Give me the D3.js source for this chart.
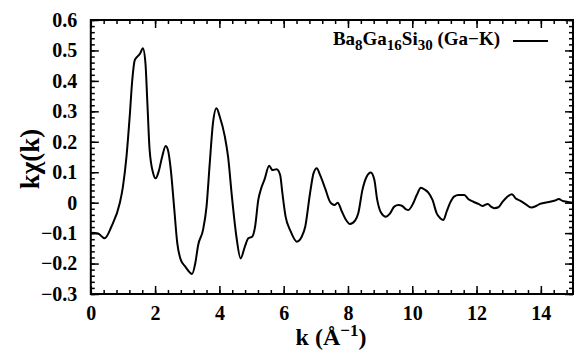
<!DOCTYPE html>
<html>
<head>
<meta charset="utf-8">
<script src="https://cdn.jsdelivr.net/npm/d3@7"></script>
<style>
  body { margin: 0; background: #fff; }
  svg { display: block; font-family: "Liberation Serif", "Times New Roman", serif; font-weight: bold; }
</style>
</head>
<body>
<div id="chart"></div>
<script>
// k values (1/Angstrom) and k*chi(k)
const kVals = [0, 0.22, 0.43, 0.64, 0.90, 1.00, 1.11, 1.21, 1.29, 1.37, 1.47, 1.54, 1.62, 1.70, 1.76, 1.83, 1.94, 2.02, 2.11, 2.22, 2.33, 2.40, 2.49, 2.59, 2.69, 2.80, 2.94, 3.15, 3.25, 3.34, 3.49, 3.60, 3.70, 3.80, 3.91, 4.01, 4.17, 4.27, 4.39, 4.53, 4.66, 4.79, 4.90, 5.02, 5.11, 5.21, 5.30, 5.40, 5.55, 5.65, 5.78, 5.89, 5.96, 6.06, 6.20, 6.41, 6.56, 6.67, 6.82, 6.93, 7.03, 7.13, 7.29, 7.44, 7.58, 7.68, 7.81, 7.93, 8.06, 8.22, 8.32, 8.45, 8.58, 8.71, 8.82, 8.91, 9.03, 9.18, 9.31, 9.44, 9.57, 9.69, 9.81, 9.88, 10.03, 10.14, 10.27, 10.40, 10.50, 10.63, 10.76, 10.87, 10.97, 11.07, 11.18, 11.30, 11.44, 11.62, 11.75, 11.90, 12.06, 12.18, 12.35, 12.45, 12.55, 12.68, 12.81, 12.94, 13.10, 13.22, 13.35, 13.49, 13.70, 13.85, 13.97, 14.13, 14.28, 14.44, 14.56, 14.67, 14.80, 15.0];
const chiVals = [-0.099, -0.101, -0.117, -0.079, -0.002, 0.053, 0.151, 0.283, 0.403, 0.469, 0.482, 0.491, 0.507, 0.458, 0.327, 0.173, 0.097, 0.080, 0.102, 0.151, 0.186, 0.173, 0.107, -0.013, -0.133, -0.188, -0.210, -0.234, -0.199, -0.139, -0.090, -0.013, 0.129, 0.261, 0.310, 0.283, 0.217, 0.151, 0.020, -0.112, -0.183, -0.145, -0.117, -0.112, -0.079, 0.009, 0.047, 0.075, 0.121, 0.107, 0.110, 0.091, 0.031, -0.046, -0.090, -0.128, -0.112, -0.079, 0.031, 0.097, 0.113, 0.091, 0.047, 0.003, -0.008, 0.000, -0.029, -0.055, -0.070, -0.059, -0.035, 0.042, 0.085, 0.099, 0.075, 0.009, -0.033, -0.046, -0.035, -0.013, -0.008, -0.011, -0.022, -0.024, -0.002, 0.025, 0.049, 0.042, 0.033, 0.009, -0.035, -0.051, -0.057, -0.029, 0.000, 0.020, 0.025, 0.025, 0.011, 0.003, -0.004, -0.011, -0.004, -0.013, -0.018, -0.015, 0.003, 0.018, 0.028, 0.014, 0.007, -0.002, -0.016, -0.011, -0.004, 0.000, 0.003, 0.007, 0.012, 0.006, 0.003, 0.000];

const xTicks = [0, 2, 4, 6, 8, 10, 12, 14];
const yTicks = [-0.3, -0.2, -0.1, 0, 0.1, 0.2, 0.3, 0.4, 0.5, 0.6];
const xMinor = d3.range(0, 15.01, 0.4).map(v => +v.toFixed(2));
const yMinor = d3.range(-0.3, 0.601, 0.02).map(v => +v.toFixed(3));

const width = 574, height = 352;
const m = {t: 20, r: 1, b: 58, l: 90.8};

const svg = d3.select("#chart").append("svg")
  .attr("width", width).attr("height", height);

const x = d3.scaleLinear().domain([0, 15]).range([m.l, width - m.r]);
const y = d3.scaleLinear().domain([-0.3, 0.6]).range([height - m.b, m.t]);

const fmtY = d => d === 0 ? "0" : d3.format(".1f")(d);

// minor ticks on all four sides
svg.append("g").attr("transform", `translate(0,${y.range()[0]})`)
  .call(d3.axisBottom(x).tickValues(xMinor).tickSize(-4).tickFormat(""));
svg.append("g").attr("transform", `translate(0,${y.range()[1]})`)
  .call(d3.axisTop(x).tickValues(xMinor).tickSize(-4).tickFormat(""));
svg.append("g").attr("transform", `translate(${x.range()[0]},0)`)
  .call(d3.axisLeft(y).tickValues(yMinor).tickSize(-4).tickFormat(""));
svg.append("g").attr("transform", `translate(${x.range()[1]},0)`)
  .call(d3.axisRight(y).tickValues(yMinor).tickSize(-4).tickFormat(""));

// major ticks
svg.append("g").attr("class", "major")
  .attr("transform", `translate(0,${y.range()[0]})`)
  .call(d3.axisBottom(x).tickValues(xTicks).tickSize(-8).tickPadding(12).tickFormat(d3.format("d")));
svg.append("g").attr("class", "major").attr("transform", `translate(0,${y.range()[1]})`)
  .call(d3.axisTop(x).tickValues(xTicks).tickSize(-8).tickFormat(""));
svg.append("g").attr("class", "major")
  .attr("transform", `translate(${x.range()[0]},0)`)
  .call(d3.axisLeft(y).tickValues(yTicks).tickSize(-8).tickPadding(13.5).tickFormat(fmtY));
svg.append("g").attr("class", "major").attr("transform", `translate(${x.range()[1]},0)`)
  .call(d3.axisRight(y).tickValues(yTicks).tickSize(-8).tickFormat(""));

svg.selectAll(".domain").remove();
svg.selectAll(".tick line").attr("stroke", "#000").attr("stroke-width", 1.5);
svg.selectAll(".tick text")
  .attr("fill", "#000")
  .style("font-family", "'Liberation Serif', serif")
  .style("font-weight", "bold")
  .style("font-size", "20px");

// frame
svg.append("rect")
  .attr("x", x.range()[0]).attr("y", y.range()[1])
  .attr("width", x.range()[1] - x.range()[0])
  .attr("height", y.range()[0] - y.range()[1])
  .attr("fill", "none").attr("stroke", "#000").attr("stroke-width", 2);

// curve
const data = kVals.map((k, i) => [k, chiVals[i]]);
const line = d3.line().x(d => x(d[0])).y(d => y(d[1])).curve(d3.curveMonotoneX);
svg.append("path").datum(data)
  .attr("d", line)
  .attr("fill", "none").attr("stroke", "#000").attr("stroke-width", 2)
  .attr("stroke-linejoin", "round");

// legend
const leg = svg.append("text")
  .attr("x", 500).attr("y", 45)
  .attr("text-anchor", "end")
  .style("font-size", "19px");
leg.append("tspan").text("Ba");
leg.append("tspan").attr("dy", 5).style("font-size", "15px").text("8");
leg.append("tspan").attr("dy", -5).text("Ga");
leg.append("tspan").attr("dy", 5).style("font-size", "15px").text("16");
leg.append("tspan").attr("dy", -5).text("Si");
leg.append("tspan").attr("dy", 5).style("font-size", "15px").text("30");
leg.append("tspan").attr("dy", -5).text(" (Ga\u2212K)");
svg.append("line")
  .attr("x1", 513).attr("x2", 548).attr("y1", 41).attr("y2", 41)
  .attr("stroke", "#000").attr("stroke-width", 2);

// axis titles
svg.append("text")
  .attr("transform", "translate(39,159) rotate(-90)")
  .attr("text-anchor", "middle")
  .style("font-size", "27px")
  .text("k\u03c7(k)");

const xt = svg.append("text")
  .attr("x", 331).attr("y", 345)
  .attr("text-anchor", "middle")
  .style("font-size", "24px");
xt.append("tspan").text("k (\u00c5");
xt.append("tspan").attr("dy", -9).style("font-size", "17px").text("\u22121");
xt.append("tspan").attr("dy", 9).text(")");
</script>
</body>
</html>
